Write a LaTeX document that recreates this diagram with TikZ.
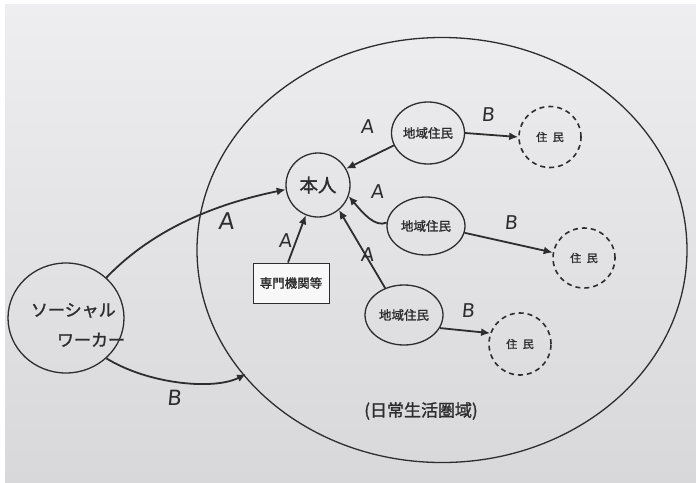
\documentclass[tikz,border=0pt]{standalone}
\usepackage{fontspec}
\newfontfamily\jp{Noto Sans CJK JP}[FakeBold=1.5]
\newfontfamily\lat{DejaVu Sans}[FakeSlant=0.1]
\usetikzlibrary{arrows.meta,shapes.geometric}
\definecolor{paperA}{RGB}{238,238,241}
\definecolor{paperB}{RGB}{216,216,219}
\definecolor{ink}{RGB}{45,45,45}
\tikzset{
  ln/.style={draw=ink, line width=1.3pt},
  arr/.style={draw=ink, line width=1.8pt, -{Latex[length=9pt,width=8pt]}},
  person/.style={ln, ellipse, inner sep=0pt, font=\jp\fontsize{12.5}{13}\selectfont, text=ink},
  dashp/.style={draw=ink, dashed, dash pattern=on 5pt off 4pt, line width=1.6pt, ellipse, inner sep=0pt, font=\jp\fontsize{11}{12}\selectfont, text=ink},
  lbl/.style={font=\lat\fontsize{19}{19}\selectfont, text=ink},
}
\begin{document}
\begin{tikzpicture}[x=1pt,y=-1pt]
\useasboundingbox (0,0) rectangle (696,482);
\fill[white] (0,0) rectangle (696,482);
\shade[top color=paperA, bottom color=paperB] (5,4) rectangle (696,482);
% big area
\node[ln, ellipse, minimum width=490pt, minimum height=425pt] (area) at (442,250) {};
\node[font=\jp\fontsize{17}{17}\selectfont, text=ink] (zone) at (421,411) {(日常生活圏域)};
% social worker
\node[person, minimum width=116pt, minimum height=110pt] (sw) at (66,318) {};
\node[font=\jp\fontsize{17}{30}\selectfont, text=ink, align=left, inner sep=0pt] (swt) at (78,325) {ソーシャル\\\hspace*{26pt}ワーカー};
% honnin
\node[ln, circle, minimum size=64pt, inner sep=0pt, font=\jp\fontsize{18.5}{19}\selectfont, text=ink] (hon) at (318,185) {本人};
% residents
\node[person, minimum width=73pt, minimum height=62pt] (r1) at (428,133) {地域住民};
\node[person, minimum width=78pt, minimum height=58pt] (r2) at (426,226) {地域住民};
\node[person, minimum width=78pt, minimum height=60pt] (r3) at (404,315) {地域住民};
% dashed
\node[dashp, minimum width=62pt, minimum height=61pt] (d1) at (550,137) {住\,\,\,民};
\node[dashp, minimum width=62pt, minimum height=60pt] (d2) at (584,258) {住\,\,\,民};
\node[dashp, minimum width=62pt, minimum height=62pt] (d3) at (520,344) {住\,\,\,民};
% box
\node[draw=ink, line width=1pt, fill=white!60!paperA, minimum width=76pt, minimum height=40pt, inner sep=2pt, font=\jp\fontsize{12.5}{13}\selectfont, text=ink] (box) at (291,283) {専門機関等};
% connectors
\coordinate (bEnd) at (246,374);
\draw[arr] (sw.45) .. controls (150,232) and (210,205) .. (hon.188);
\draw[arr] (sw.-45) .. controls (150,385) and (215,390) .. (bEnd);
\draw[arr] (r1.200) -- (hon.30);
\draw[arr] (r2.175) .. controls (375,228) and (362,212) .. (hon.-20);
\draw[arr] (r3.125) -- (hon.-50);
\coordinate (bt) at ([xshift=-3pt]box.north);
\draw[arr] (bt) -- (hon.-112);
\draw[arr] (r1.east) -- (d1.west);
\draw[arr] (r2.-10) -- (d2.170);
\draw[arr] (r3.-20) -- (d3.160);
% labels
\node[lbl, font=\lat\fontsize{23}{23}\selectfont] (la0) at (226,221) {A};
\node[lbl] (la1) at (367,127) {A};
\node[lbl] (la2) at (377,192) {A};
\node[lbl] (la3) at (367,255) {A};
\node[lbl] (la4) at (285,241) {A};
\node[lbl] (lb1) at (488,115) {B};
\node[lbl] (lb2) at (511,223) {B};
\node[lbl] (lb3) at (468,311) {B};
\node[lbl, font=\lat\fontsize{21}{21}\selectfont] (lb0) at (174,398) {B};
\end{tikzpicture}
\end{document}
